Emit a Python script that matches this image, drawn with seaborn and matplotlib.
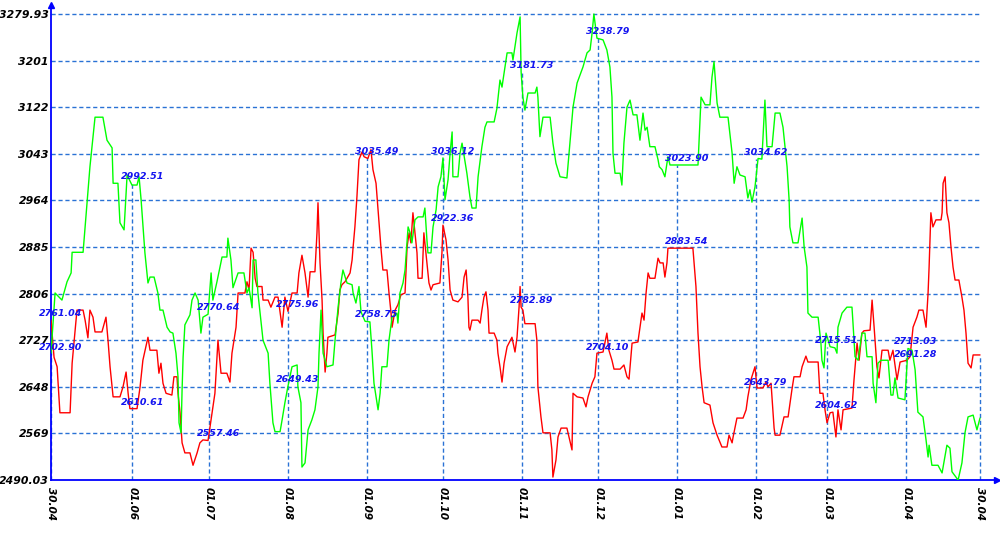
import matplotlib
matplotlib.use("Agg")
import matplotlib.pyplot as plt
import numpy as np
import pandas as pd
import seaborn as sns

# ---------------- data ----------------
start_date = "2021-04-30"

green_days = [0.0, 1.6, 4.3, 6.3, 7.9, 8.3, 12.6, 13.4, 15.3, 17.3, 20.4, 22.0, 24.0, 24.4, 26.3, 27.1, 28.7, 29.9,
              31.8, 33.8, 34.6, 35.4, 36.9, 38.1, 38.9, 40.5, 42.0, 42.8, 44.0, 45.6, 46.8, 47.9, 49.1, 49.9, 50.3,
              51.1, 51.5, 51.9, 52.6, 54.6, 55.4, 56.6, 57.8, 58.9, 59.7, 61.7, 62.9, 63.6, 65.2, 67.2, 69.1, 69.5,
              70.7, 71.5, 73.5, 75.8, 77.0, 77.8, 79.0, 79.4, 80.5, 81.3, 83.3, 85.3, 86.0, 87.2, 88.0, 90.0, 90.8,
              91.9, 93.1, 94.7, 96.7, 97.0, 98.2, 98.6, 99.8, 101.0, 102.5, 103.7, 104.9, 105.3, 106.1, 106.9, 108.4,
              110.8, 111.6, 112.8, 113.9, 114.7, 116.3, 118.3, 118.7, 119.8, 121.0, 121.8, 123.4, 125.3, 126.1, 126.9,
              128.5, 129.3, 130.0, 132.0, 132.8, 134.0, 135.9, 136.3, 137.1, 138.3, 139.1, 140.3, 141.1, 141.8, 143.0,
              144.2, 146.2, 146.9, 147.7, 148.1, 149.3, 150.1, 151.3, 152.1, 153.2, 154.0, 154.8, 156.0, 156.8, 157.6,
              157.9, 159.9, 160.7, 161.5, 163.4, 164.6, 165.4, 167.0, 167.8, 169.3, 170.5, 171.3, 174.1, 175.2, 176.4,
              177.2, 177.6, 179.2, 181.1, 181.5, 183.1, 184.3, 184.7, 185.4, 186.2, 187.4, 190.2, 190.9, 191.3, 192.1,
              193.3, 196.1, 197.2, 198.4, 200.0, 202.7, 203.9, 205.1, 206.7, 209.0, 210.6, 211.8, 212.6, 213.3, 214.5,
              216.9, 218.4, 219.6, 220.4, 220.8, 221.6, 223.6, 224.3, 225.1, 226.3, 227.5, 228.7, 230.2, 231.4, 232.6,
              233.4, 234.2, 235.3, 237.3, 238.5, 239.0, 240.1, 241.2, 242.4, 243.2, 254.2, 255.4, 257.0, 258.9, 259.7,
              260.5, 261.7, 262.8, 266.0, 267.6, 268.4, 269.5, 270.7, 272.7, 273.8, 274.6, 275.4, 276.6, 277.8, 279.3,
              280.5, 281.3, 283.3, 284.5, 286.4, 287.6, 289.2, 290.0, 290.3, 291.5, 293.5, 295.1, 295.9, 297.0, 297.4,
              299.0, 301.4, 302.5, 302.9, 303.7, 304.5, 306.1, 308.0, 308.8, 309.2, 310.8, 312.7, 314.7, 315.1, 315.9,
              317.1, 318.6, 319.8, 320.6, 322.6, 323.0, 324.1, 324.9, 326.1, 328.9, 330.0, 330.8, 331.6, 332.8, 335.5,
              336.7, 338.3, 339.5, 340.6, 342.6, 343.8, 344.6, 345.0, 346.1, 348.5, 350.1, 352.0, 353.2, 354.0, 356.4,
              357.9, 359.1, 360.3, 362.3, 363.8, 365.0]
green_vals = [2705, 2807, 2795, 2826, 2841, 2876, 2876, 2919, 3021, 3105, 3105, 3066, 3053, 2993, 2993, 2926, 2914, 3007,
              2990, 2990, 3004, 2965, 2875, 2824, 2834, 2834, 2807, 2778, 2778, 2749, 2741, 2739, 2705, 2665, 2587,
              2570, 2643, 2698, 2753, 2770, 2795, 2807, 2795, 2739, 2766, 2771, 2841, 2795, 2826, 2868, 2868, 2900,
              2863, 2816, 2841, 2841, 2807, 2816, 2782, 2863, 2863, 2807, 2727, 2705, 2654, 2587, 2572, 2572, 2592,
              2621, 2649, 2682, 2685, 2648, 2621, 2512, 2519, 2575, 2592, 2609, 2648, 2705, 2778, 2705, 2682,
              2685, 2727, 2783, 2824, 2846, 2824, 2821, 2807, 2790, 2818, 2775, 2759, 2758, 2710, 2654,
              2609, 2637, 2682, 2682, 2727, 2766, 2773, 2756, 2807, 2824, 2846, 2919, 2909, 2892, 2931,
              2936, 2936, 2951, 2897, 2875, 2875, 2919, 2948, 2987, 3004, 3036, 2965, 2999, 3044, 3080,
              3004, 3004, 3044, 3061, 3010, 2970, 2951, 2951, 3004, 3055, 3088, 3097, 3097, 3120, 3168,
              3156, 3168, 3214, 3214, 3202, 3248, 3275, 3182, 3139, 3117, 3146, 3146, 3156, 3139, 3072,
              3105, 3105, 3061, 3027, 3004, 3002, 3061, 3122, 3163, 3190, 3214, 3219, 3248, 3279.93, 3239,
              3236, 3219, 3190, 3139, 3044, 3010, 3010, 2990, 3061, 3122, 3134, 3109, 3109, 3066, 3112,
              3083, 3088, 3055, 3055, 3033, 3021, 3016, 3004, 3038, 3024, 3024, 3139, 3126, 3126, 3173,
              3199, 3129, 3105, 3105, 3044, 2993, 3021, 3007, 3004, 2968, 2982, 2961, 2987, 3035, 3034,
              3134, 3055, 3055, 3112, 3112, 3088, 3021, 2965, 2919, 2892, 2892, 2934, 2885, 2851, 2773,
              2766, 2766, 2722, 2693, 2680, 2739, 2716, 2714, 2705, 2749, 2773, 2783, 2783, 2756, 2699,
              2693, 2739, 2739, 2699, 2699, 2654, 2621, 2688, 2693, 2693, 2634, 2634, 2663, 2629, 2626,
              2713, 2710, 2677, 2605, 2597, 2558, 2529, 2549, 2515, 2515, 2502, 2549, 2544, 2504, 2490.03,
              2519, 2570, 2597, 2600, 2575, 2595]

red_days = [0.0, 1.2, 2.4, 2.8, 3.5, 7.5, 8.3, 9.4, 10.2, 12.6, 13.4, 14.5, 15.3, 16.5, 17.3, 20.0, 21.6, 22.4, 23.2,
            24.4, 27.1, 28.3, 29.5, 30.3, 31.0, 33.8, 35.0, 36.1, 38.1, 38.9, 41.6, 42.4, 43.2, 44.0, 45.2, 47.5, 48.3,
            49.5, 49.9, 50.7, 51.5, 52.6, 54.6, 55.8, 57.4, 58.5, 59.7, 61.7, 62.9, 64.4, 65.6, 66.8, 69.1, 70.3, 71.1,
            72.7, 73.5, 76.2, 77.0, 77.8, 78.6, 79.4, 80.2, 80.9, 82.9, 83.3, 85.3, 86.4, 88.0, 89.2, 90.8, 91.9, 93.1,
            94.7, 96.7, 97.4, 98.6, 99.8, 101.0, 101.8, 103.7, 104.5, 104.9, 105.7, 106.5, 106.9, 107.7, 108.4, 108.8,
            111.6, 112.8, 113.5, 114.3, 115.5, 117.5, 118.3, 118.7, 119.4, 120.2, 121.0, 122.2, 123.0, 124.5, 125.7,
            126.5, 127.7, 128.5, 129.7, 130.4, 132.0, 132.8, 133.6, 134.0, 135.2, 136.3, 137.5, 139.1, 139.9, 140.7,
            141.4, 142.2, 143.0, 143.8, 144.2, 145.8, 146.5, 147.7, 148.5, 149.3, 150.1, 152.8, 153.6, 154.0, 155.2,
            156.0, 156.8, 157.9, 159.9, 161.5, 162.3, 163.1, 163.8, 164.2, 164.6, 165.4, 167.8, 168.6, 169.3, 170.1,
            170.9, 171.7, 172.1, 174.1, 175.2, 175.6, 176.4, 177.2, 178.0, 179.2, 181.1, 182.3, 183.1, 183.9, 184.3,
            184.7, 185.4, 186.2, 190.2, 190.9, 191.3, 192.5, 193.3, 196.1, 196.8, 197.2, 198.4, 199.2, 200.4, 202.7,
            203.5, 204.7, 205.1, 206.7, 209.0, 210.2, 211.0, 212.6, 213.7, 214.5, 216.9, 218.4, 219.2, 220.4, 221.2,
            223.6, 225.1, 226.3, 227.1, 228.3, 230.6, 231.4, 232.2, 233.0, 233.8, 234.6, 235.3, 237.3, 238.5, 239.3,
            240.5, 241.2, 242.0, 242.4, 252.2, 253.4, 254.2, 255.0, 255.8, 256.6, 258.9, 260.1, 261.7, 263.6, 265.6,
            266.4, 267.6, 268.0, 269.5, 271.9, 273.1, 273.8, 275.0, 276.6, 277.4, 279.7, 280.9, 281.7, 282.9, 284.1,
            284.5, 286.4, 288.0, 289.6, 291.1, 291.9, 294.3, 295.1, 296.6, 297.4, 301.4, 302.1, 303.3, 304.1, 304.9,
            306.1, 307.2, 308.4, 309.2, 310.4, 311.2, 314.7, 315.5, 316.7, 317.5, 318.6, 319.4, 321.8, 322.6, 323.4,
            324.5, 325.3, 326.5, 328.9, 329.6, 330.8, 332.4, 333.6, 336.3, 337.5, 338.7, 340.2, 341.0, 342.6, 343.8,
            344.6, 345.0, 345.7, 346.5, 347.7, 349.7, 350.1, 350.5, 351.3, 352.0, 352.8, 353.6, 354.4, 355.2, 356.7,
            357.9, 358.7, 359.5, 360.3, 361.5, 362.3, 365.0]
red_vals = [2761, 2698, 2682, 2654, 2604, 2604, 2688, 2739, 2778, 2778, 2761, 2731, 2778, 2766, 2741, 2741, 2766, 2727, 2682,
            2631, 2631, 2648, 2673, 2637, 2611, 2611, 2648, 2693, 2732, 2710, 2710, 2671, 2688, 2654, 2637, 2634, 2665,
            2665, 2637, 2604, 2553, 2536, 2536, 2515, 2536, 2553, 2558, 2557, 2592, 2637, 2727, 2671, 2671, 2656, 2705,
            2749, 2807, 2807, 2826, 2812, 2883, 2876, 2832, 2818, 2818, 2795, 2795, 2783, 2800, 2800, 2749, 2800, 2776,
            2807, 2807, 2841, 2871, 2841, 2800, 2843, 2843, 2909, 2960, 2858, 2795, 2739, 2673, 2705, 2732,
            2736, 2773, 2812, 2821, 2826, 2841, 2863, 2885, 2919, 2970, 3033, 3046, 3038, 3035, 3050,
            3016, 2993, 2948, 2880, 2846, 2846, 2807, 2773, 2749, 2778, 2787, 2804, 2807, 2885, 2909,
            2892, 2943, 2909, 2875, 2832, 2832, 2909, 2858, 2824, 2812, 2821, 2824, 2875, 2922, 2897,
            2863, 2812, 2795, 2792, 2800, 2834, 2846, 2800, 2749, 2744, 2761, 2761, 2756, 2778, 2800,
            2809, 2778, 2739, 2739, 2727, 2705, 2682, 2656, 2688, 2716, 2732, 2707, 2732, 2783, 2818,
            2783, 2778, 2755, 2755, 2727, 2648, 2597, 2570, 2570, 2541, 2495, 2524, 2563, 2578, 2578,
            2563, 2541, 2637, 2631, 2629, 2614, 2631, 2654, 2665, 2705, 2707, 2739, 2710, 2693, 2678,
            2678, 2685, 2665, 2661, 2722, 2724, 2749, 2773, 2761, 2807, 2841, 2832, 2832, 2866, 2858,
            2858, 2834, 2858, 2883, 2883, 2818, 2739, 2682, 2648, 2621, 2617, 2587, 2566, 2546, 2546,
            2566, 2553, 2563, 2595, 2595, 2609, 2631, 2660, 2682, 2646, 2646, 2656, 2648, 2654, 2578,
            2566, 2566, 2597, 2597, 2643, 2665, 2665, 2682, 2700, 2690, 2690, 2637, 2637, 2609, 2587,
            2604, 2605, 2563, 2609, 2575, 2609, 2612, 2660, 2722, 2693, 2739, 2743, 2744, 2795, 2749,
            2682, 2663, 2710, 2710, 2693, 2710, 2660, 2690, 2693, 2699, 2749, 2766, 2778, 2778, 2749,
            2807, 2851, 2943, 2919, 2931, 2931, 2943, 2993, 3004, 2943, 2926, 2885, 2851, 2829, 2829,
            2800, 2778, 2739, 2688, 2680, 2702, 2702]

tick_dates = ["2021-04-30", "2021-06-01", "2021-07-01", "2021-08-01", "2021-09-01", "2021-10-01",
              "2021-11-01", "2021-12-01", "2022-01-01", "2022-02-01", "2022-03-01", "2022-04-01", "2022-04-30"]
tick_labels = ["30.04", "01.06", "01.07", "01.08", "01.09", "01.10",
               "01.11", "01.12", "01.01", "01.02", "01.03", "01.04", "30.04"]

green_marks = [2702.90, 2992.51, 2770.64, 2649.43, 2758.75, 3036.12,
               3181.73, 3238.79, 3023.90, 3034.62, 2715.51, 2713.03]
red_marks = [2761.04, 2610.61, 2557.46, 2775.96, 3035.49, 2922.36,
             2782.89, 2704.10, 2883.54, 2643.79, 2604.62, 2691.28]

y_tick_labels = ["2490.03", "2569", "2648", "2727", "2806", "2885",
                 "2964", "3043", "3122", "3201", "3279.93"]

# ---------------- styling ----------------
GREEN = "#00ff00"
RED = "#ff0000"
AXIS_BLUE = "#0000ff"
GRID_BLUE = "#2a72d5"
LABEL_BLUE = "#1414f0"

sns.set_style("white")
plt.rcParams["font.family"] = ["DejaVu Sans"]

start = pd.Timestamp(start_date)
df_green = pd.DataFrame({"date": start + pd.to_timedelta(green_days, unit="D"), "value": green_vals})
df_red = pd.DataFrame({"date": start + pd.to_timedelta(red_days, unit="D"), "value": red_vals})
tdates = pd.to_datetime(tick_dates)

fig = plt.figure(figsize=(10, 5.5), dpi=100)
ax = fig.add_axes([0.051, 70 / 550, 0.946, 475 / 550])

sns.lineplot(data=df_red, x="date", y="value", ax=ax, color=RED, lw=1.0,
             estimator=None, legend=False, zorder=3)
sns.lineplot(data=df_green, x="date", y="value", ax=ax, color=GREEN, lw=1.0,
             estimator=None, legend=False, zorder=3)

y_lo, y_hi = 2490.03, 3279.93
y_ticks = np.linspace(y_lo, y_hi, len(y_tick_labels))
x_end = tdates[-1]
span = (x_end - tdates[0])
ax.set_xlim(tdates[0], tdates[0] + span * (946 / 929))
ax.set_ylim(y_lo, y_hi + (y_hi - y_lo) * 9 / 466)

# horizontal dashed grid (ends at last date)
ax.hlines(y_ticks[1:], tdates[0], x_end, colors=GRID_BLUE, linestyles=(0, (3, 2)), lw=1.0, zorder=1)

# vertical dashed lines up to the marked values
tops = [max(g, r) for g, r in zip(green_marks, red_marks)] + [max(green_vals[-1], red_vals[-1])]
ax.vlines(tdates, y_lo, tops, colors=GRID_BLUE, linestyles=(0, (3, 2)), lw=1.0, zorder=1)

# value labels
for d, g, r in zip(tdates[:-1], green_marks, red_marks):
    for v in (g, r):
        ax.annotate(f"{v:.2f}", xy=(d, v), xytext=(-8.6, 3.0), textcoords="offset points",
                    ha="left", va="baseline", color=LABEL_BLUE, fontsize=6.8,
                    fontweight="bold", fontstyle="italic", zorder=5)

# ticks
ax.set_yticks(y_ticks)
ax.set_yticklabels(y_tick_labels, fontsize=7.8, fontweight="bold", fontstyle="italic", color="black")
ax.set_xticks(tdates)
ax.set_xticklabels(tick_labels, rotation=-90, fontsize=7.6, fontweight="bold",
                   fontstyle="italic", color="black", va="top", ha="center")
ax.tick_params(axis="y", length=0, pad=1.5)
ax.tick_params(axis="x", length=0, pad=5)
ax.set_xlabel("")
ax.set_ylabel("")

# axes
for s in ("top", "right"):
    ax.spines[s].set_visible(False)
for s in ("left", "bottom"):
    ax.spines[s].set_color(AXIS_BLUE)
    ax.spines[s].set_linewidth(1.3)
ax.plot([0], [1], marker="^", color=AXIS_BLUE, markersize=5, transform=ax.transAxes, clip_on=False)
ax.plot([1], [0], marker=">", color=AXIS_BLUE, markersize=5, transform=ax.transAxes, clip_on=False)

fig.savefig("out.png", dpi=100)
